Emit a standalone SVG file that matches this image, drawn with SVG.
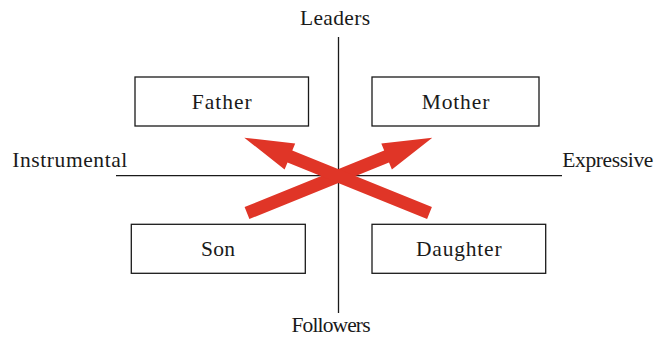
<svg xmlns="http://www.w3.org/2000/svg" width="667" height="337" viewBox="0 0 667 337">
<style>
text{font-family:"Liberation Serif","Times New Roman",serif;font-size:21.5px;fill:#1a1a1a}
.box{fill:#fff;stroke:#1a1a1a;stroke-width:1.3}
.axis{stroke:#1a1a1a;stroke-width:1.3;fill:none}
.arrow{fill:#e03527}
.c{text-anchor:middle}
</style>
<rect width="667" height="337" fill="#fff"/>
<g id="axes">
<line class="axis" x1="338.5" y1="37" x2="338.5" y2="313"/>
<line class="axis" x1="116" y1="175.7" x2="562" y2="175.7"/>
</g>
<g id="axis-labels">
<text class="c" x="335" y="25" textLength="70" lengthAdjust="spacing">Leaders</text>
<text class="c" x="331" y="332" textLength="79" lengthAdjust="spacing">Followers</text>
<text x="12.3" y="167" textLength="115" lengthAdjust="spacing">Instrumental</text>
<text x="562.3" y="167" textLength="91" lengthAdjust="spacing">Expressive</text>
</g>
<g id="father"><rect class="box" x="135" y="77" width="173.5" height="49"/><text class="c" x="221.7" y="108.5" textLength="60" lengthAdjust="spacing">Father</text></g>
<g id="mother"><rect class="box" x="372" y="77" width="167" height="49"/><text class="c" x="455.5" y="108.5" textLength="67.6" lengthAdjust="spacing">Mother</text></g>
<g id="son"><rect class="box" x="131.3" y="224.3" width="174" height="49"/><text class="c" x="218" y="255.5" textLength="34" lengthAdjust="spacing">Son</text></g>
<g id="daughter"><rect class="box" x="372" y="224.3" width="173.7" height="49"/><text class="c" x="458.8" y="255.5" textLength="85.7" lengthAdjust="spacing">Daughter</text></g>
<g id="connectors">
<polygon class="arrow" points="249.4,219 244.6,207 384.2,150.4 381.3,143.4 432.3,137.7 391.9,169.4 389,162.4"/>
<polygon class="arrow" points="427.1,219 431.9,207 292.3,150.4 295.2,143.4 244.3,137.7 284.6,169.4 287.5,162.4"/>
</g>
</svg>
